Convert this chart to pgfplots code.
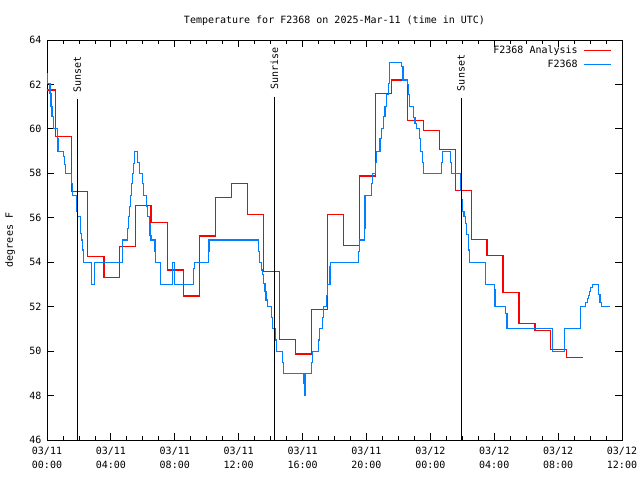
\documentclass[border=0pt]{standalone}
\usepackage{pgfplots}
\pgfplotsset{compat=1.18}
\usepackage{fontspec}
\setmainfont{DejaVu Sans Mono}
\definecolor{anared}{rgb}{1,0,0}
\definecolor{obsblue}{RGB}{0,128,255}
\begin{document}
\fontsize{10bp}{11bp}\selectfont
\begin{tikzpicture}[font=\fontsize{10bp}{11bp}\selectfont]
\path[use as bounding box] (-47bp,-40bp) rectangle (593bp,440bp);
\begin{axis}[
  scale only axis, width=575bp, height=400bp,
  at={(0,0)}, anchor=south west,
  xmin=0, xmax=36, ymin=46, ymax=64,
  xtick={0,4,...,36},
  xticklabels={{03/11\\00:00},{03/11\\04:00},{03/11\\08:00},{03/11\\12:00},{03/11\\16:00},{03/11\\20:00},{03/12\\00:00},{03/12\\04:00},{03/12\\08:00},{03/12\\12:00}},
  xticklabel style={align=center, font=\fontsize{10bp}{14bp}\selectfont, yshift=-4bp},
  minor x tick num=3,
  ytick={46,48,...,64},
  tick align=inside,
  major tick length=7bp, minor tick length=4bp,
  tick style={black, line width=0.8bp},
  axis line style={line width=0.8bp},
  /pgf/number format/assume math mode=true,
  yticklabel style={xshift=-2bp},
  ylabel={degrees F},
  ylabel style={at={(axis description cs:-0.0643,0.5)}, anchor=center},
  title={Temperature for F2368 on 2025-Mar-11 (time in UTC)},
  title style={at={(axis description cs:0.5,1)}, anchor=base, yshift=11bp},
  legend style={at={(axis description cs:1,1)}, anchor=north east, xshift=-10bp, yshift=-4bp,
    draw=none, fill=none, inner sep=0pt, row sep=0.5bp, nodes={inner sep=2bp}},
  legend cell align=right,
  legend plot pos=right,
  legend image code/.code={\draw[#1] (0bp,0bp) (4bp,0bp) -- (31bp,0bp);},
]
\addplot[draw=anared, line width=1.1bp, const plot] coordinates {
(0,61.75) (0.54,59.65) (1.52,57.17) (2.55,54.25) (3.57,53.32) (4.53,54.7)
(5.55,56.57) (6.51,55.8) (7.56,53.65) (8.53,52.48) (9.54,55.18) (10.54,56.92)
(11.57,57.55) (12.55,56.15) (13.57,53.57) (14.57,50.53) (15.55,49.87) (16.55,51.88)
(17.55,56.15) (18.55,54.76) (19.55,57.88) (20.55,61.6) (21.55,62.2) (22.55,60.37)
(23.55,59.92) (24.55,59.08) (25.55,57.24) (26.55,55.04) (27.55,54.31) (28.55,52.65)
(29.55,51.26) (30.55,50.93) (31.55,50.08) (32.55,49.72) (33.55,49.72)
};
\addlegendentry{F2368 Analysis}
\addplot[draw=obsblue, line width=1.1bp, const plot] coordinates {
(0,62.5) (0.02,62.05) (0.19,61.6) (0.25,61.0) (0.31,60.55) (0.38,60.0) (0.63,59.55)
(0.69,59.0) (1.04,58.75) (1.11,58.4) (1.17,58.0) (1.54,57.55) (1.57,57.0) (1.82,56.65)
(1.86,56.3) (1.92,56.05) (2.07,55.75) (2.11,55.3) (2.17,55.0) (2.23,54.55) (2.30,54.0)
(2.80,53.0) (2.96,54.0) (4.70,54.4) (4.74,55.0) (5.03,55.5) (5.09,56.05) (5.16,56.5)
(5.22,57.0) (5.28,57.55) (5.34,58.0) (5.41,58.45) (5.47,59.0) (5.66,58.5) (5.80,58.0)
(5.99,57.55) (6.03,57.0) (6.24,56.5) (6.28,56.05) (6.39,55.75) (6.45,55.2) (6.51,55.0)
(6.76,54.5) (6.80,54.0) (7.08,53.5) (7.12,53.0) (7.83,54.0) (7.99,53.0) (9.16,53.7)
(9.22,54.0) (10.10,54.5) (10.14,55.0) (13.23,54.5) (13.33,54.0) (13.44,53.65)
(13.50,53.45) (13.58,53.05) (13.65,52.7) (13.71,52.3) (13.79,52.0) (14.03,51.5)
(14.09,51.0) (14.32,50.5) (14.38,50.0) (14.75,49.5) (14.80,49.0) (16.09,48.55)
(16.11,48.0) (16.15,48.55) (16.21,49.0) (16.57,49.5) (16.61,50.0) (16.99,50.5)
(17.05,51.0) (17.26,51.5) (17.30,52.0) (17.51,52.5) (17.57,53.0) (17.72,53.8)
(17.76,54.0) (19.49,54.5) (19.55,55.0) (19.85,55.5) (19.91,57.0) (20.33,57.55)
(20.37,58.0) (20.58,58.5) (20.64,59.0) (20.85,59.55) (20.95,60.0) (21.06,60.55)
(21.16,61.0) (21.27,61.55) (21.37,62.05) (21.43,63.0) (22.20,62.8) (22.29,62.2)
(22.56,62.0) (22.62,61.55) (22.69,61.0) (22.96,60.5) (23.04,60.25) (23.14,60.0)
(23.31,59.55) (23.40,59.0) (23.50,58.5) (23.60,58.0) (24.71,58.5) (24.75,59.0)
(25.27,58.5) (25.33,58.0) (25.88,57.25) (25.96,56.8) (26.03,56.3) (26.11,56.05)
(26.21,55.75) (26.28,55.25) (26.38,54.55) (26.44,54.0) (27.44,53.5) (27.48,53.0)
(28.01,52.75) (28.05,52.0) (28.72,51.7) (28.80,51.0) (31.67,50.0) (32.42,51.0)
(33.40,52.0) (33.72,52.2) (33.83,52.35) (33.89,52.5) (33.95,52.7) (34.04,52.85)
(34.16,53.0) (34.52,52.55) (34.62,52.2) (34.69,52.0) (35.25,52.0)
};
\addlegendentry{F2368}
\addplot[black, line width=0.8bp, forget plot] coordinates {(1.90,61.35) (1.90,46)};
\addplot[black, line width=0.8bp, forget plot] coordinates {(14.23,61.45) (14.23,46)};
\addplot[black, line width=0.8bp, forget plot] coordinates {(25.92,61.40) (25.92,46)};
\node[rotate=90, anchor=west, inner sep=1bp] at (axis cs:1.90,61.6) {Sunset};
\node[rotate=90, anchor=west, inner sep=1bp] at (axis cs:14.23,61.7) {Sunrise};
\node[rotate=90, anchor=west, inner sep=1bp] at (axis cs:25.92,61.65) {Sunset};
\end{axis}
\end{tikzpicture}
\end{document}
